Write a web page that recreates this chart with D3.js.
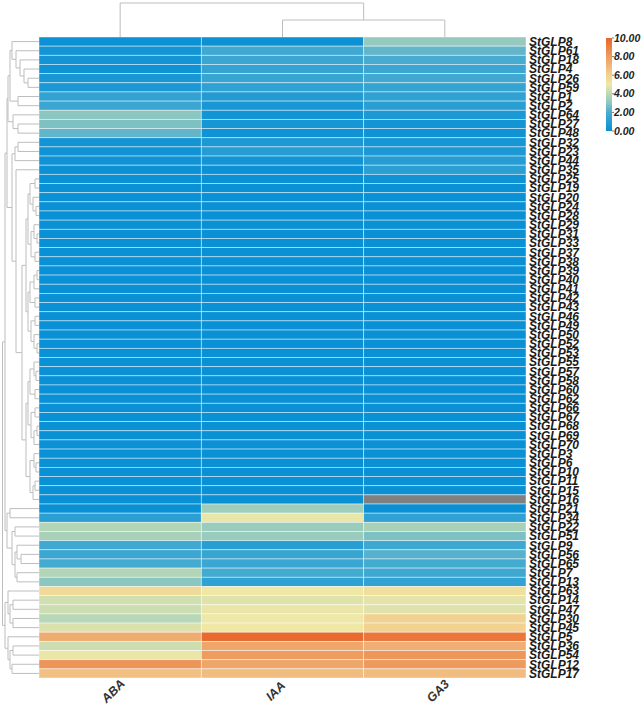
<!DOCTYPE html>
<html><head><meta charset="utf-8">
<script src="https://cdn.jsdelivr.net/npm/d3@7"></script>
<style>body{margin:0;background:#fff}svg{display:block}</style>
</head><body>
<svg id="c" width="643" height="708"></svg>
<script>
const columns = ["ABA","IAA","GA3"];
const rowNames = ["StGLP8","StGLP61","StGLP18","StGLP4","StGLP26","StGLP59","StGLP1","StGLP2","StGLP64","StGLP27",
"StGLP48","StGLP32","StGLP23","StGLP44","StGLP35","StGLP25","StGLP19","StGLP20","StGLP24","StGLP28",
"StGLP29","StGLP31","StGLP33","StGLP37","StGLP38","StGLP39","StGLP40","StGLP41","StGLP42","StGLP43",
"StGLP46","StGLP49","StGLP50","StGLP52","StGLP53","StGLP55","StGLP57","StGLP58","StGLP60","StGLP62",
"StGLP66","StGLP67","StGLP68","StGLP69","StGLP70","StGLP3","StGLP6","StGLP10","StGLP11","StGLP15",
"StGLP16","StGLP21","StGLP34","StGLP22","StGLP51","StGLP9","StGLP56","StGLP65","StGLP7","StGLP13",
"StGLP63","StGLP14","StGLP47","StGLP30","StGLP45","StGLP5","StGLP36","StGLP54","StGLP12","StGLP17"];
const valuesABA = [0.1,0.3,0.3,0.2,0.5,0.6,1.3,1.6,3.0,2.8,
2.4,0.3,0.2,0.2,0.1,0,0,0,0,0,
0,0,0,0,0,0,0,0,0,0,
0,0,0,0,0,0,0,0,0,0,
0,0,0,0,0,0,0,0,0,0,
0,0,1.1,3.8,3.6,1.8,1.6,1.9,3.8,3.0,
5.6,4.4,4.3,3.9,4.6,7.4,4.3,4.9,8.3,6.6];
const valuesIAA = [0.1,1.8,1.6,1.4,1.5,1.2,0.8,0.5,0.3,0.4,
0.2,0.6,0.9,0.3,0.1,0,0,0,0,0,
0,0,0,0,0,0,0,0,0,0,
0,0,0,0,0,0,0,0,0,0,
0,0,0,0,0,0,0,0,0,0,
0,3.4,4.9,3.3,3.3,1.0,1.5,1.6,1.9,1.2,
5.0,4.7,4.9,5.0,5.0,9.8,7.6,8.0,7.6,6.8];
const valuesGA3 = [3.2,2.4,2.0,1.6,1.8,1.4,1.2,1.0,0.6,0.3,
0.2,0.4,0.6,0.9,1.1,0.2,0,0,0,0,
0,0,0,0,0,0,0,0,0,0,
0,0,0,0,0,0,0,0,0,0,
0,0,0,0,0,0,0,0,0,0,
null,0,1.2,3.6,2.8,1.7,2.2,1.9,1.7,1.3,
5.4,4.8,4.7,6.0,6.0,9.4,7.3,8.2,8.1,6.8];
const legendTicks = [0,2,4,6,8,10];

// column tree: [height, left, right]; leaves are column indices
const colTree = [34, 0, [17, 1, 2]];
// row tree: [height, left, right]; leaves are row indices
const T1 = [23,1,[19,2,[15,3,[11,4,5]]]];
const TA = [27,0,T1];
const TB = [21,6,7];
const TAB = [29,TA,TB];
const TC = [26,8,[21,9,10]];
const TABC = [31,TAB,TC];
const TD = [24,[21,11,12],13];
const z1 = [9,[4,15,16],[6,17,[3,18,19]]];
const z2 = [8,[5,20,[2,21,22]],[4,23,24]];
const z3 = [9,[5,[2,25,26],27],[4,28,29]];
const z4 = [8,[4,30,31],[5,32,[2,33,34]]];
const z5 = [9,[5,35,[3,36,37]],[4,38,39]];
const z6 = [8,[4,40,41],[5,[2,42,43],44]];
const z7 = [9,[5,45,[3,46,47]],[6,[4,48,49],50]];
const Zmain = [17,[13,[11,z1,z2],[11,z3,z4]],[13,[11,z5,z6],z7]];
const TE = [23,14,Zmain];
const Middle = [27,TD,TE];
const Upper = [32,TABC,Middle];
const G21 = [29,51,52];
const G22 = [24,53,54];
const G23 = [24,[22,55,[18,56,57]],[22,58,59]];
const G2 = [32,G21,[27,G22,G23]];
const Left = [34,Upper,G2];
const B1 = [31,60,[29,[26,61,62],[26,63,64]]];
const B2 = [31,65,[29,[26,66,67],[27,68,69]]];
const rowTree = [36.5,Left,[34,B1,B2]];

const svg = d3.select("#c");
const x = d3.scaleBand().domain(columns).range([39,526]);
const y = d3.scaleBand().domain(rowNames).range([37,678]);
const color = d3.scaleLinear().domain([0,2,3,4,5,6,7,8,10])
  .range(["#0a90d5","#47acd0","#8cc6c0","#bcd9b5","#eee7a6","#f2d290","#f0b67c","#ee9c60","#e86528"]);
const series = [valuesABA,valuesIAA,valuesGA3];

// heatmap
const cells = [];
series.forEach((vals,ci)=>vals.forEach((v,ri)=>cells.push({c:columns[ci],r:rowNames[ri],v})));
svg.append("g").selectAll("rect").data(cells).join("rect")
  .attr("x",d=>x(d.c)).attr("y",d=>y(d.r))
  .attr("width",x.bandwidth()).attr("height",y.bandwidth())
  .attr("fill",d=>d.v==null?"#808080":color(d.v))
  .attr("stroke","#ffffff").attr("stroke-opacity",0.55).attr("stroke-width",0.8);

// row labels
svg.append("g").selectAll("text").data(rowNames).join("text")
  .attr("x",529).attr("y",d=>y(d)+y.bandwidth()/2)
  .attr("dy","0.36em")
  .attr("font-family","Liberation Sans, Arial, sans-serif")
  .attr("font-weight","bold").attr("font-style","italic")
  .attr("font-size",12).attr("fill","#1a1a1a")
  .text(d=>d);

// column labels
svg.append("g").selectAll("text").data(columns).join("text")
  .attr("transform",d=>`translate(${x(d)+x.bandwidth()/2-4},${694}) rotate(-45)`)
  .attr("text-anchor","middle")
  .attr("font-family","Liberation Sans, Arial, sans-serif")
  .attr("font-weight","bold").attr("font-style","italic")
  .attr("font-size",12.5).attr("fill","#333")
  .text(d=>d);

// dendrogram drawing
function drawTree(tree, leafPos, hScale, horizontal, g){
  function walk(node){
    if(typeof node === "number") return {p:leafPos(node), h:hScale(0)};
    const a = walk(node[1]), b = walk(node[2]);
    const h = hScale(node[0]);
    [a,b].forEach(ch=>{
      if(horizontal) g.append("line").attr("x1",ch.h).attr("x2",h).attr("y1",ch.p).attr("y2",ch.p);
      else g.append("line").attr("y1",ch.h).attr("y2",h).attr("x1",ch.p).attr("x2",ch.p);
    });
    if(horizontal) g.append("line").attr("x1",h).attr("x2",h).attr("y1",a.p).attr("y2",b.p);
    else g.append("line").attr("y1",h).attr("y2",h).attr("x1",a.p).attr("x2",b.p);
    return {p:(a.p+b.p)/2, h};
  }
  walk(tree);
}
const gRow = svg.append("g").attr("stroke","#bdbdbd").attr("stroke-width",1);
const hRow = d3.scaleLinear().domain([0,36.5]).range([39,2.5]);
drawTree(rowTree, i=>y(rowNames[i])+y.bandwidth()/2, hRow, true, gRow);
const gCol = svg.append("g").attr("stroke","#bdbdbd").attr("stroke-width",1);
const hCol = d3.scaleLinear().domain([0,34]).range([37,3]);
drawTree(colTree, i=>x(columns[i])+x.bandwidth()/2, hCol, false, gCol);

// legend
const defs = svg.append("defs");
const grad = defs.append("linearGradient").attr("id","lg").attr("x1",0).attr("x2",0).attr("y1",1).attr("y2",0);
d3.range(0,10.01,0.5).forEach(v=>grad.append("stop").attr("offset",v/10).attr("stop-color",color(v)));
const ly = d3.scaleLinear().domain([0,10]).range([131,38]);
svg.append("rect").attr("x",606).attr("y",ly(10)).attr("width",6).attr("height",ly(0)-ly(10)).attr("fill","url(#lg)");
const lg = svg.append("g");
lg.selectAll("line").data(legendTicks).join("line")
  .attr("x1",612).attr("x2",614).attr("y1",d=>ly(d)).attr("y2",d=>ly(d))
  .attr("stroke","#555").attr("stroke-width",0.8);
lg.selectAll("text").data(legendTicks).join("text")
  .attr("x",614).attr("y",d=>ly(d)).attr("dy","0.35em")
  .attr("font-family","Liberation Sans, Arial, sans-serif")
  .attr("font-weight","bold").attr("font-style","italic")
  .attr("font-size",10.5).attr("fill","#222")
  .text(d=>d.toFixed(2));
</script>
</body></html>
